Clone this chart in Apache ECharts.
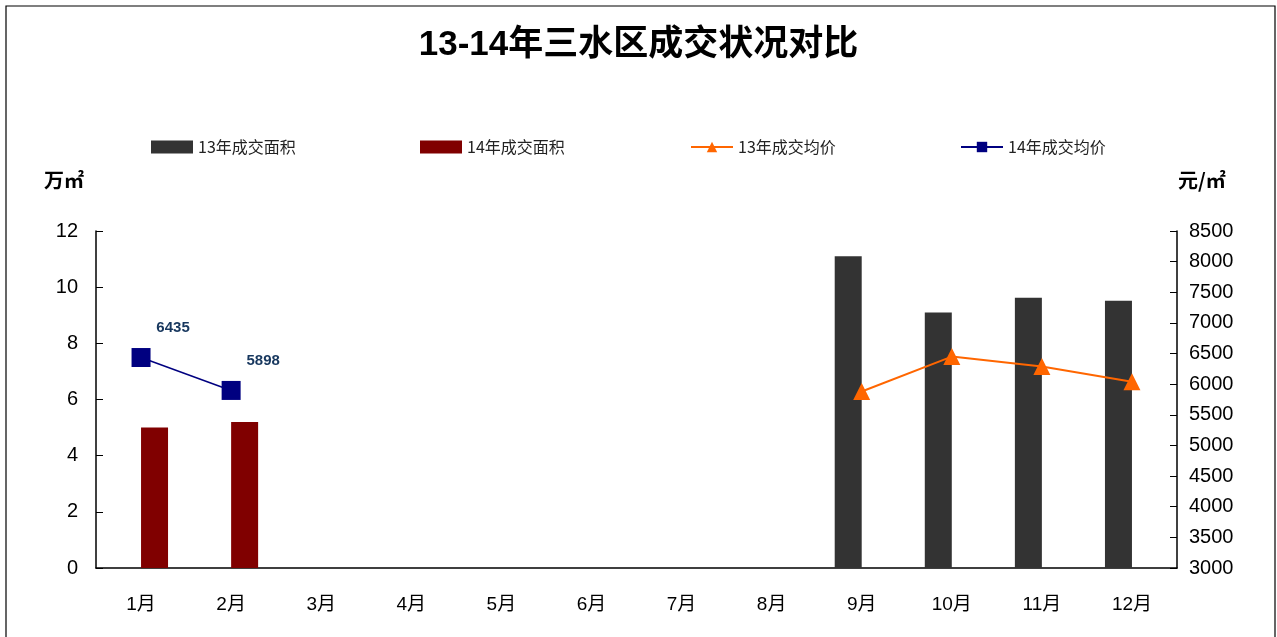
<!DOCTYPE html>
<html>
<head>
<meta charset="utf-8">
<script src="https://cdn.jsdelivr.net/npm/echarts@6/dist/echarts.min.js"></script>
<style>
html,body{margin:0;padding:0;background:#fff;}
#chart{width:1277px;height:637px;}
</style>
</head>
<body>
<div id="chart"></div>
<script>
const categories = ['1月','2月','3月','4月','5月','6月','7月','8月','9月','10月','11月','12月'];
const area13 = [null,null,null,null,null,null,null,null,11.1,9.1,9.62,9.52];
const area14 = [5.0,5.2,null,null,null,null,null,null,null,null,null,null];
const price13 = [null,null,null,null,null,null,null,null,5880,6450,6290,6040];
const price14 = [6435,5898,null,null,null,null,null,null,null,null,null,null];
const seriesNames = ['13年成交面积','14年成交面积','13年成交均价','14年成交均价'];
const leftTicks = {min:0,max:12,interval:2};
const rightTicks = {min:3000,max:8500,interval:500};

const chart = echarts.init(document.getElementById('chart'));
const legendText = {fontFamily:'Noto Sans CJK SC', fontSize:16, color:'#222'};
function lg(name, left, icon){
  const o = {data:[{name:name}], left:left, top:134, itemWidth:42, itemHeight:13, itemGap:4, textStyle:legendText, selectedMode:false};
  if (icon) o.data[0].icon = icon;
  return o;
}
const option = {
  backgroundColor:'#fff',
  animation:false,
  title:{text:'13-14年三水区成交状况对比', left:'center', top:23,
    textStyle:{fontFamily:'Liberation Sans, Noto Sans CJK SC', fontWeight:'bold', fontSize:35, color:'#000'}},
  legend:[lg(seriesNames[0],146,'rect'), lg(seriesNames[1],415,'rect'), lg(seriesNames[2],685), lg(seriesNames[3],955)],
  graphic:[
    {type:'rect', shape:{x:6,y:6,width:1269,height:640}, style:{fill:'none', stroke:'#000', lineWidth:1.2}, silent:true},
    {type:'text', left:44, top:170, style:{text:'万㎡', font:'bold 20px "Noto Sans CJK SC"', fill:'#000'}},
    {type:'text', left:1178, top:170, style:{text:'元/㎡', font:'bold 20px "Noto Sans CJK SC"', fill:'#000'}}
  ],
  grid:{left:96, right:100, top:231, bottom:69},
  xAxis:{type:'category', data:categories, boundaryGap:true,
    axisLine:{lineStyle:{color:'#000', width:1.5}},
    axisTick:{inside:true, length:7, lineStyle:{color:'#000'}},
    axisLabel:{color:'#000', fontSize:19, margin:27, fontFamily:'Liberation Sans, Noto Sans CJK SC'}},
  yAxis:[
    {type:'value', min:leftTicks.min, max:leftTicks.max, interval:leftTicks.interval,
      splitLine:{show:false},
      axisLine:{show:true, lineStyle:{color:'#000', width:1.5}},
      axisTick:{show:true, inside:true, length:7, lineStyle:{color:'#000'}},
      axisLabel:{color:'#000', fontSize:20, margin:18, fontFamily:'Liberation Sans'}},
    {type:'value', min:rightTicks.min, max:rightTicks.max, interval:rightTicks.interval, position:'right',
      splitLine:{show:false},
      axisLine:{show:true, lineStyle:{color:'#000', width:1.5}},
      axisTick:{show:true, inside:true, length:7, lineStyle:{color:'#000'}},
      axisLabel:{color:'#000', fontSize:20, margin:12, fontFamily:'Liberation Sans', formatter:function(v){return String(v);}}}
  ],
  series:[
    {name:seriesNames[0], type:'bar', data:area13, barWidth:27, barGap:'0%', itemStyle:{color:'#333333'}},
    {name:seriesNames[1], type:'bar', data:area14, barWidth:27, barGap:'0%', itemStyle:{color:'#800000'}},
    {name:seriesNames[2], type:'line', yAxisIndex:1, data:price13, symbol:'triangle', symbolSize:17,
      lineStyle:{color:'#FF6600', width:2}, itemStyle:{color:'#FF6600'}},
    {name:seriesNames[3], type:'line', yAxisIndex:1, data:price14, symbol:'rect', symbolSize:19,
      lineStyle:{color:'#000080', width:1.5}, itemStyle:{color:'#000080'},
      label:{show:true, position:'top', offset:[32,-8], color:'#17375E', fontWeight:'bold', fontSize:15, fontFamily:'Liberation Sans'}}
  ]
};
chart.setOption(option);
</script>
</body>
</html>
